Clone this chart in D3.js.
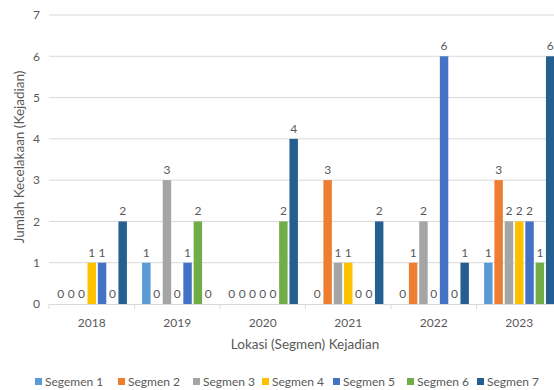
<!DOCTYPE html>
<html>
<head>
<meta charset="utf-8">
<script src="https://cdn.jsdelivr.net/npm/d3@7"></script>
<style>
  body { margin: 0; background: #fff; }
  svg { display: block; font-family: Lato, "Open Sans", sans-serif; }
</style>
</head>
<body>
<svg width="554" height="390"></svg>
<script>
// data
var years = ["2018", "2019", "2020", "2021", "2022", "2023"];
var segments = ["Segemen 1", "Segmen 2", "Segmen 3", "Segmen 4", "Segmen 5", "Segmen 6", "Segmen 7"];
var seg1 = [0, 1, 0, 0, 0, 1];
var seg2 = [0, 0, 0, 3, 1, 3];
var seg3 = [0, 3, 0, 1, 2, 2];
var seg4 = [1, 0, 0, 1, 0, 2];
var seg5 = [1, 1, 0, 0, 6, 2];
var seg6 = [0, 2, 2, 0, 0, 1];
var seg7 = [2, 0, 4, 2, 1, 6];
var yTicks = [0, 1, 2, 3, 4, 5, 6, 7];

var series = [seg1, seg2, seg3, seg4, seg5, seg6, seg7];
var colors = ["#5B9BD5", "#ED7D31", "#A5A5A5", "#FFC000", "#4472C4", "#70AD47", "#255E91"];
var textCol = "#595959";

var svg = d3.select("svg");

var x = d3.scaleBand().domain(years).range([49, 562]).padding(0);
var xs = d3.scaleBand().domain(d3.range(segments.length)).range([0, 70.3]).paddingInner(0.18);
var y = d3.scaleLinear().domain([0, 7]).range([304, 15]);

// gridlines
svg.append("g").selectAll("line")
  .data(yTicks.slice(1))
  .enter().append("line")
  .attr("x1", 49).attr("x2", 554)
  .attr("y1", function(d) { return y(d); })
  .attr("y2", function(d) { return y(d); })
  .attr("stroke", "#D9D9D9").attr("stroke-width", 1);

// y axis labels
svg.append("g")
  .attr("transform", "translate(40,0)")
  .call(d3.axisLeft(y).tickValues(yTicks).tickFormat(d3.format("d")).tickSize(0).tickPadding(0))
  .call(function(g) { g.select(".domain").remove(); })
  .selectAll("text")
  .attr("fill", textCol).style("font-size", "12px").style("font-family", "Lato, sans-serif");

// bars
var groups = svg.append("g").selectAll("g")
  .data(years)
  .enter().append("g")
  .attr("transform", function(d) { return "translate(" + (x(d) + x.bandwidth() / 2 - 35.15) + ",0)"; });

groups.each(function(year, yi) {
  var g = d3.select(this);
  var vals = series.map(function(s, si) { return { si: si, v: s[yi] }; });
  g.selectAll("rect").data(vals).enter().append("rect")
    .attr("x", function(d) { return xs(d.si); })
    .attr("width", xs.bandwidth())
    .attr("y", function(d) { return y(d.v); })
    .attr("height", function(d) { return y(0) - y(d.v); })
    .attr("fill", function(d) { return colors[d.si]; });
  g.selectAll("text").data(vals).enter().append("text")
    .attr("x", function(d) { return xs(d.si) + xs.bandwidth() / 2; })
    .attr("y", function(d) { return y(d.v) - 6; })
    .attr("text-anchor", "middle")
    .attr("fill", textCol)
    .style("font-size", "12px")
    .text(function(d) { return d.v; });
});

// x axis
var xAxis = svg.append("g")
  .attr("transform", "translate(0,304)")
  .call(d3.axisBottom(x).tickSize(0).tickPadding(14));
xAxis.select(".domain").attr("stroke", "#D9D9D9");
xAxis.selectAll("text").attr("fill", textCol).style("font-size", "12px").style("font-family", "Lato, sans-serif");
xAxis.selectAll(".sep").data(years.concat(["end"])).enter().append("line")
  .attr("x1", function(d, i) { return 49 + i * x.step(); })
  .attr("x2", function(d, i) { return 49 + i * x.step(); })
  .attr("y1", 0).attr("y2", 5)
  .attr("stroke", "#D9D9D9");

// axis titles
svg.append("text")
  .attr("x", 305).attr("y", 349)
  .attr("text-anchor", "middle")
  .attr("fill", textCol).style("font-size", "13.5px")
  .text("Lokasi (Segmen) Kejadian");

svg.append("text")
  .attr("transform", "translate(24,157) rotate(-90)")
  .attr("text-anchor", "middle")
  .attr("fill", textCol).style("font-size", "13.5px")
  .text("Jumlah Kecelakaan (Kejadian)");

// legend
var legendX = [35, 118, 193, 262, 333, 407, 477];
var leg = svg.append("g").selectAll("g")
  .data(segments)
  .enter().append("g")
  .attr("transform", function(d, i) { return "translate(" + legendX[i] + ",378)"; });
leg.append("rect").attr("width", 7).attr("height", 7).attr("y", 0)
  .attr("fill", function(d, i) { return colors[i]; });
leg.append("text").attr("x", 10).attr("y", 8)
  .attr("fill", textCol).style("font-size", "12px")
  .text(function(d) { return d; });
</script>
</body>
</html>
